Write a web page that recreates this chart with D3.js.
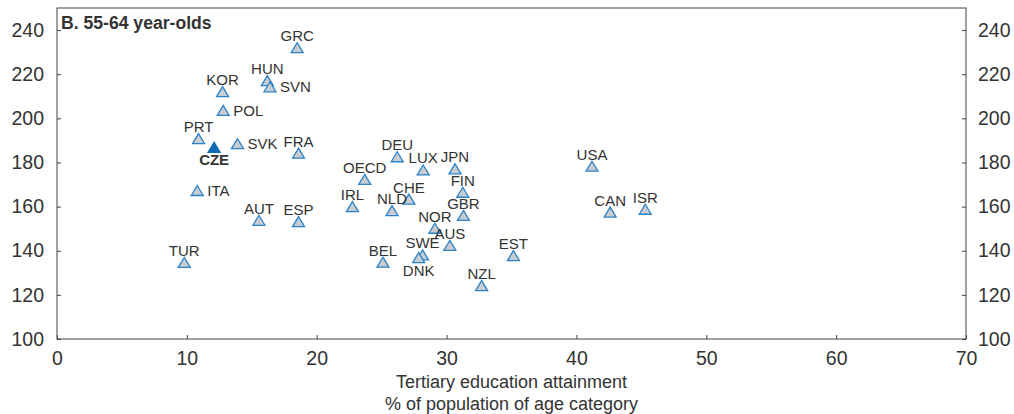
<!DOCTYPE html>
<html>
<head>
<meta charset="utf-8">
<script src="https://cdn.jsdelivr.net/npm/d3@7/dist/d3.min.js"></script>
<style>
  html, body { margin: 0; padding: 0; background: #fff; }
  svg { display: block; font-family: "Liberation Sans", Arial, Helvetica, sans-serif; }
</style>
</head>
<body>
<svg id="chart" width="1014" height="414"></svg>
<script>
// Country codes, tertiary attainment (% of 55-64 year-olds) and the y-axis indicator
const countries = ["GRC","HUN","SVN","KOR","POL","PRT","SVK","FRA","CZE","ITA","AUT","ESP","TUR",
                   "USA","CAN","ISR","DEU","LUX","JPN","OECD","FIN","CHE","IRL","NLD","GBR",
                   "NOR","AUS","SWE","DNK","BEL","EST","NZL"];
const tertiary  = [18.5,16.2,16.4,12.75,12.8,10.9,13.9,18.6,12.1,10.8,15.55,18.6,9.8,
                   41.2,42.6,45.3,26.2,28.2,30.65,23.7,31.25,27.1,22.75,25.8,31.3,
                   29.1,30.25,28.15,27.85,25.1,35.15,32.7];
const indicator = [232.0,217.1,214.3,212.1,203.6,190.8,188.5,184.2,186.9,167.3,153.8,153.2,134.7,
                   178.3,157.5,158.8,182.6,176.6,177.1,172.3,166.5,163.4,160.0,158.2,156.0,
                   150.2,142.4,138.1,136.9,134.8,137.8,124.2];
const highlight = "CZE";

const xTicks = [0,10,20,30,40,50,60,70];
const yTicks = [100,120,140,160,180,200,220,240];

const panelTitle = "B. 55-64 year-olds";
const xTitle = ["Tertiary education attainment", "% of population of age category"];

// Label placement around each marker: above (default), to the right, or below
const rightLabels = new Set(["SVN","POL","SVK","ITA"]);
const belowLabels = new Set(["CZE","DNK"]);

const svg = d3.select("#chart");
const plotL = 57, plotR = 966, plotT = 8, plotB = 339;

const x = d3.scaleLinear().domain([0, 70]).range([plotL, plotR]);
const y = d3.scaleLinear().domain([100, 250]).range([plotB, plotT]);

const textColor = "#333";
const frameColor = "#444";

// Frame
svg.append("rect")
  .attr("x", plotL).attr("y", plotT)
  .attr("width", plotR - plotL).attr("height", plotB - plotT)
  .attr("fill", "none").attr("stroke", frameColor).attr("stroke-width", 1);

// Axes (ticks pointing into the plot)
function styleAxis(g) {
  g.select(".domain").remove();
  g.selectAll(".tick line").attr("stroke", frameColor);
  g.selectAll(".tick text").attr("fill", textColor)
    .style("font-size", "19.5px").style("font-family", "Liberation Sans, Arial, sans-serif");
}

svg.append("g")
  .attr("transform", `translate(0,${plotB})`)
  .call(d3.axisBottom(x).tickValues(xTicks).tickFormat(d3.format("d"))
        .tickSizeInner(-4).tickSizeOuter(0))
  .call(styleAxis)
  .call(g => g.selectAll(".tick text").attr("y", 12).attr("dy", "0.71em"));

svg.append("g")
  .attr("transform", `translate(${plotL},0)`)
  .call(d3.axisLeft(y).tickValues(yTicks).tickSizeInner(-4).tickSizeOuter(0))
  .call(styleAxis)
  .call(g => g.selectAll(".tick text").attr("x", -13));

svg.append("g")
  .attr("transform", `translate(${plotR},0)`)
  .call(d3.axisRight(y).tickValues(yTicks).tickSizeInner(-4).tickSizeOuter(0))
  .call(styleAxis)
  .call(g => g.selectAll(".tick text").attr("x", 12));

// Panel title
svg.append("text")
  .attr("x", plotL + 4).attr("y", 29)
  .attr("fill", textColor)
  .style("font-size", "17.6px").style("font-weight", "bold")
  .text(panelTitle);

// X-axis title
svg.append("text")
  .attr("x", (plotL + plotR) / 2).attr("y", 388)
  .attr("text-anchor", "middle").attr("fill", textColor)
  .style("font-size", "18px")
  .text(xTitle[0]);
svg.append("text")
  .attr("x", (plotL + plotR) / 2).attr("y", 410)
  .attr("text-anchor", "middle").attr("fill", textColor)
  .style("font-size", "18px")
  .text(xTitle[1]);

// Markers
const pts = countries.map((c, i) => ({ code: c, x: tertiary[i], y: indicator[i] }));
const triW = 12, triH = 10;
const tri = `M0,${-triH/2}L${triW/2},${triH/2}L${-triW/2},${triH/2}Z`;

const g = svg.append("g");
const others = pts.filter(d => d.code !== highlight);
const hi = pts.filter(d => d.code === highlight);

g.selectAll("path.pt").data(others).join("path")
  .attr("class", "pt")
  .attr("d", tri)
  .attr("transform", d => `translate(${x(d.x)},${y(d.y)})`)
  .attr("fill", "#c9ccd1")
  .attr("stroke", "#2a83c8")
  .attr("stroke-width", 1.3);

g.selectAll("path.hi").data(hi).join("path")
  .attr("class", "hi")
  .attr("d", tri)
  .attr("transform", d => `translate(${x(d.x)},${y(d.y)})`)
  .attr("fill", "#0d6cb4")
  .attr("stroke", "#0d6cb4")
  .attr("stroke-width", 1.3);

// Labels
g.selectAll("text.lbl").data(pts).join("text")
  .attr("class", "lbl")
  .attr("x", d => rightLabels.has(d.code) ? x(d.x) + 10 : x(d.x))
  .attr("y", d => rightLabels.has(d.code) ? y(d.y) + 5.4
                : belowLabels.has(d.code) ? y(d.y) + 18 : y(d.y) - 6.5)
  .attr("text-anchor", d => rightLabels.has(d.code) ? "start" : "middle")
  .attr("fill", textColor)
  .style("font-size", "15px")
  .style("font-weight", d => d.code === highlight ? "bold" : "normal")
  .text(d => d.code);
</script>
</body>
</html>
